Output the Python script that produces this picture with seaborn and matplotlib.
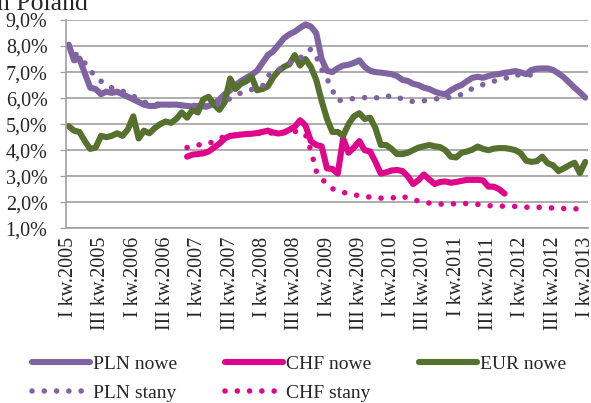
import numpy as np
import pandas as pd
import matplotlib
matplotlib.use('Agg')
import matplotlib.pyplot as plt
import seaborn as sns

# monthly observations, Jan 2005 .. Jan 2013
months = list(range(97))
quarter_labels = ['I kw.2005', 'III kw.2005', 'I kw.2006', 'III kw.2006',
                  'I kw.2007', 'III kw.2007', 'I kw.2008', 'III kw.2008',
                  'I kw.2009', 'III kw.2009', 'I kw.2010', 'III kw.2010',
                  'I kw.2011', 'III kw.2011', 'I kw.2012', 'III kw.2012',
                  'I kw.2013']
y_labels = ['1,0%', '2,0%', '3,0%', '4,0%', '5,0%', '6,0%', '7,0%', '8,0%', '9,0%']

pln_nowe = [8.05, 7.45, 7.52, 6.95, 6.4, 6.35, 6.15, 6.25, 6.2, 6.25,
            6.15, 6.05, 5.95, 5.85, 5.75, 5.7, 5.7, 5.75, 5.75, 5.75,
            5.75, 5.72, 5.7, 5.68, 5.7, 5.68, 5.7, 5.78, 5.95, 6.15,
            6.3, 6.5, 6.65, 6.78, 6.9, 7.05, 7.35, 7.65, 7.8, 8.05,
            8.3, 8.45, 8.55, 8.7, 8.83, 8.75, 8.5, 7.5, 7.05, 7.0,
            7.15, 7.25, 7.28, 7.35, 7.45, 7.2, 7.05, 7.0, 6.98, 6.95,
            6.92, 6.85, 6.7, 6.66, 6.55, 6.5, 6.4, 6.35, 6.25, 6.18,
            6.15, 6.3, 6.42, 6.5, 6.65, 6.78, 6.82, 6.78, 6.85, 6.9,
            6.93, 6.97, 7.0, 7.04, 6.99, 6.92, 7.08, 7.13, 7.14, 7.14,
            7.08, 6.95, 6.8, 6.6, 6.4, 6.22, 6.02]

pln_stany = [8.05, 7.75, 7.55, 7.35, 7.05, 6.85, 6.65, 6.5, 6.4, 6.32,
             6.27, 6.18, 6.08, 5.95, 5.85, 5.8, 5.78, 5.76, 5.75, 5.74,
             5.74, 5.73, 5.73, 5.73, 5.7, 5.65, 5.66, 5.72, 5.78, 5.88,
             5.98, 6.1, 6.2, 6.28, 6.33, 6.4, 6.45, 6.86, 6.98, 7.08,
             7.25, 7.33, 7.43, 7.53, 7.75, 7.88, 7.6, 7.1, 6.75, 6.3,
             5.9, 5.93, 5.97, 5.98, 6.0, 6.02, 6.05, 6.02, 5.99, 6.05,
             6.1, 6.05, 5.96, 5.9, 5.87, 5.88, 5.9, 5.93, 5.96, 6.0,
             6.02, 6.03, 6.04, 6.15, 6.28, 6.36, 6.44, 6.52, 6.6, 6.65,
             6.7, 6.75, 6.82, 6.9, 6.88, 6.86, 6.9, 6.94, 6.95] + [np.nan] * 8

eur_nowe = [4.92, 4.75, 4.7, 4.35, 4.05, 4.1, 4.55, 4.5, 4.55, 4.65,
            4.55, 4.8, 5.3, 4.45, 4.75, 4.65, 4.85, 5.0, 5.1, 5.05,
            5.2, 5.45, 5.25, 5.55, 5.45, 5.95, 6.05, 5.75, 5.55, 5.85,
            6.75, 6.35, 6.55, 6.65, 6.82, 6.3, 6.35, 6.45, 6.8, 7.05,
            7.2, 7.3, 7.65, 7.25, 7.5, 7.2, 6.7, 5.9, 5.2, 4.7,
            4.7, 4.55, 5.0, 5.3, 5.42, 5.2, 5.25, 4.85, 4.2, 4.2,
            4.05, 3.85, 3.85, 3.9, 4.0, 4.1, 4.15, 4.2, 4.15, 4.12,
            4.0, 3.75, 3.72, 3.9, 3.95, 4.02, 4.14, 4.05, 4.0, 4.06,
            4.08, 4.08, 4.05, 4.0, 3.88, 3.6, 3.55, 3.58, 3.75, 3.5,
            3.42, 3.2, 3.3, 3.42, 3.52, 3.12, 3.55]

chf_nowe = [np.nan] * 22 + [
    3.75, 3.83, 3.85, 3.88, 3.95, 4.1, 4.25, 4.45, 4.55, 4.57,
    4.6, 4.62, 4.63, 4.66, 4.7, 4.75, 4.68, 4.64, 4.68, 4.78,
    4.9, 5.15, 4.95, 4.35, 4.2, 4.15, 3.3, 3.28, 3.1, 4.45,
    3.9, 4.1, 4.35, 4.0, 3.95, 3.55, 3.1, 3.15, 3.22, 3.24,
    3.2, 3.0, 2.7, 2.85, 3.07, 2.88, 2.7, 2.78, 2.8, 2.75,
    2.78, 2.82, 2.86, 2.86, 2.86, 2.84, 2.6, 2.6, 2.5, 2.33] + [np.nan] * 15

chf_stany = [np.nan] * 22 + [
    4.1, 4.15, 4.2, 4.22, 4.25, 4.35, 4.45, 4.52, 4.57, 4.58,
    4.6, 4.62, 4.63, 4.64, 4.65, 4.66, 4.66, 4.67, 4.68, 4.7,
    4.72, 4.72, 4.6, 4.0, 3.2, 2.9, 2.7, 2.52, 2.45, 2.38,
    2.33, 2.29, 2.25, 2.22, 2.2, 2.17, 2.16, 2.16, 2.16, 2.2,
    2.24, 2.15, 2.1, 2.05, 2.0, 1.97, 1.94, 1.93, 1.93, 1.94,
    1.94, 1.95, 1.95, 1.94, 1.92, 1.9, 1.87, 1.86, 1.85, 1.85,
    1.85, 1.84, 1.82, 1.81, 1.81, 1.81, 1.8, 1.79, 1.78, 1.77,
    1.76, 1.76, 1.75, 1.74] + [np.nan]

df = pd.DataFrame({'miesiac': months, 'PLN nowe': pln_nowe, 'CHF nowe': chf_nowe,
                   'EUR nowe': eur_nowe, 'PLN stany': pln_stany, 'CHF stany': chf_stany})

sns.set_style('white')
plt.rcParams['font.family'] = ['Liberation Serif', 'DejaVu Serif']
plt.rcParams['lines.solid_capstyle'] = 'round'
plt.rcParams['lines.dash_capstyle'] = 'round'
plt.rcParams['lines.solid_joinstyle'] = 'round'
plt.rcParams['lines.dash_joinstyle'] = 'round'

purple = '#8064A2'
pink = '#E0068C'
green = '#56702E'
grey = '#A0A0A0'
dots = (0, (0.01, 2.2))

fig = plt.figure(figsize=(5.91, 4.03), dpi=100)
ax = fig.add_axes([66 / 591, 1 - 228.3 / 403, 522 / 591, 208.3 / 403])

styles = [('PLN nowe', purple, '-', 4.4), ('CHF nowe', pink, '-', 4.4),
          ('EUR nowe', green, '-', 4.4), ('PLN stany', purple, dots, 4.0),
          ('CHF stany', pink, dots, 4.0)]
handles = {}
for name, col, ls, lw in styles:
    sns.lineplot(data=df, x='miesiac', y=name, ax=ax, color=col,
                 linestyle=ls, errorbar=None, legend=False)
    line = ax.lines[-1]
    line.set_linewidth(lw)
    line.set_linestyle(ls)
    handles[name] = line

ax.set_xlim(-0.5, 96.5)
ax.set_ylim(1, 9)
ax.set_xlabel('')
ax.set_ylabel('')
ax.set_yticks(range(1, 10))
ax.set_yticklabels(y_labels, fontsize=14.5)
ax.set_xticks(np.arange(-0.5, 97, 1))
ax.set_xticklabels([])
ax.set_xticks(range(0, 97, 6), minor=True)
ax.set_xticklabels(quarter_labels, minor=True, rotation=90, fontsize=14.5)
ax.tick_params(axis='x', which='major', length=3.6, color=grey, width=0.9, direction='out')
ax.tick_params(axis='x', which='minor', length=0, pad=6)
ax.tick_params(axis='y', length=4.3, color=grey, width=0.9, pad=9, left=True)
ax.yaxis.grid(True, color=grey, lw=1.2)
ax.xaxis.grid(False)
for side in ['top', 'right']:
    ax.spines[side].set_visible(False)
for side in ['left', 'bottom']:
    ax.spines[side].set_color(grey)
    ax.spines[side].set_linewidth(1.2)

fig.text(-3 / 591, 1 - 9.5 / 403, 'n Poland', fontsize=18.5, va='baseline', ha='left')

order = ['PLN nowe', 'PLN stany', 'CHF nowe', 'CHF stany', 'EUR nowe']
fig.legend([handles[k] for k in order], order, ncol=3, frameon=False,
           loc='upper left', bbox_to_anchor=(32 / 591, 1 - 355 / 403),
           borderpad=0, borderaxespad=0, fontsize=14, handlelength=3.0,
           handletextpad=0.15, columnspacing=2.45, labelspacing=0.62)

fig.savefig('out.png', dpi=100)
